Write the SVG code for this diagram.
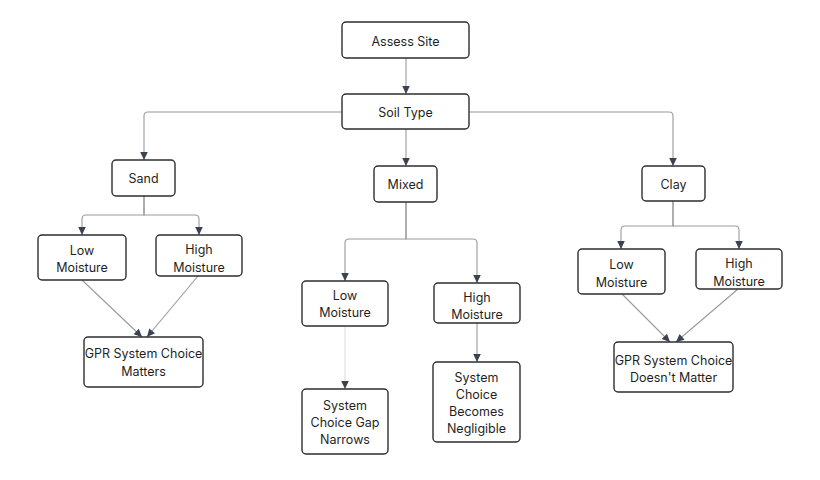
<svg xmlns="http://www.w3.org/2000/svg" width="820" height="480" viewBox="0 0 820 480">
<style>
.n rect{fill:#fff;stroke:#2e2e2e;stroke-width:1.4}
.n text{font-family:Inter,"Liberation Sans",sans-serif;font-size:12.5px;fill:#1f1f1f;text-anchor:middle;dominant-baseline:central}
.c path{fill:none;stroke:#9a9a9a;stroke-width:1.1;marker-end:url(#ah)}
.c path.lt{stroke:#dcdcdc}
</style>
<defs>
<marker id="ah" markerUnits="userSpaceOnUse" markerWidth="10" markerHeight="10" viewBox="0 0 10 10" refX="9" refY="5" orient="auto">
<path d="M1,1.2 L9,5 L1,8.8 Z" fill="#3c4350"/>
</marker>
</defs>
<rect width="820" height="480" fill="#fff"/>
<g class="c" id="connectors">
<path d="M406,58 V94"/>
<path d="M342,112 H148 Q144,112 144,116 V160"/>
<path d="M406,129 V166"/>
<path d="M469,112 H669 Q673,112 673,116 V166"/>
<path d="M144,196 V215 H86 Q82,215 82,219 V235"/>
<path d="M144,196 V215 H195 Q199,215 199,219 V235"/>
<path d="M406,202 V239 H349 Q345,239 345,243 V281"/>
<path d="M406,202 V239 H473 Q477,239 477,243 V283"/>
<path d="M673,201 V226 H625 Q621,226 621,230 V249"/>
<path d="M673,201 V226 H735 Q739,226 739,230 V249"/>
<path d="M82,280 L142,337"/>
<path d="M198,276 L147,337"/>
<path class="lt" d="M345,326 V389"/>
<path d="M477,323 V362"/>
<path d="M622,294 L670,342"/>
<path d="M738,289 L676,342"/>
</g>
<g class="n" id="assess"><rect x="342" y="22" width="127" height="36" rx="4"/><text x="405.5" y="41">Assess Site</text></g>
<g class="n" id="soil"><rect x="342" y="94" width="127" height="35" rx="4"/><text x="405.5" y="112">Soil Type</text></g>
<g class="n" id="sand"><rect x="112" y="160" width="63" height="36" rx="4"/><text x="143.5" y="178">Sand</text></g>
<g class="n" id="mixed"><rect x="374" y="166" width="63" height="36" rx="4"/><text x="405.5" y="184">Mixed</text></g>
<g class="n" id="clay"><rect x="642" y="166" width="63" height="35" rx="4"/><text x="673.5" y="184">Clay</text></g>
<g class="n" id="sand-low"><rect x="38" y="235" width="88" height="45" rx="4"/><text x="82" y="250">Low</text><text x="82" y="267">Moisture</text></g>
<g class="n" id="sand-high"><rect x="156" y="235" width="86" height="41" rx="4"/><text x="199" y="249">High</text><text x="199" y="267">Moisture</text></g>
<g class="n" id="mixed-low"><rect x="302" y="281" width="86" height="45" rx="4"/><text x="345" y="295">Low</text><text x="345" y="312">Moisture</text></g>
<g class="n" id="mixed-high"><rect x="434" y="283" width="86" height="40" rx="4"/><text x="477" y="297">High</text><text x="477" y="314">Moisture</text></g>
<g class="n" id="clay-low"><rect x="578" y="249" width="87" height="45" rx="4"/><text x="621.5" y="264">Low</text><text x="621.5" y="282">Moisture</text></g>
<g class="n" id="clay-high"><rect x="696" y="249" width="86" height="40" rx="4"/><text x="739" y="263">High</text><text x="739" y="281">Moisture</text></g>
<g class="n" id="gpr-matters"><rect x="84" y="337" width="119" height="50" rx="4"/><text x="143.5" y="353">GPR System Choice</text><text x="143.5" y="371">Matters</text></g>
<g class="n" id="gap-narrows"><rect x="302" y="389" width="86" height="65" rx="4"/><text x="345" y="405">System</text><text x="345" y="422">Choice Gap</text><text x="345" y="439">Narrows</text></g>
<g class="n" id="negligible"><rect x="433" y="362" width="87" height="80" rx="4"/><text x="476.5" y="377">System</text><text x="476.5" y="394">Choice</text><text x="476.5" y="411">Becomes</text><text x="476.5" y="428">Negligible</text></g>
<g class="n" id="gpr-doesnt"><rect x="614" y="342" width="119" height="50" rx="4"/><text x="673.5" y="360">GPR System Choice</text><text x="673.5" y="377">Doesn't Matter</text></g>
</svg>
